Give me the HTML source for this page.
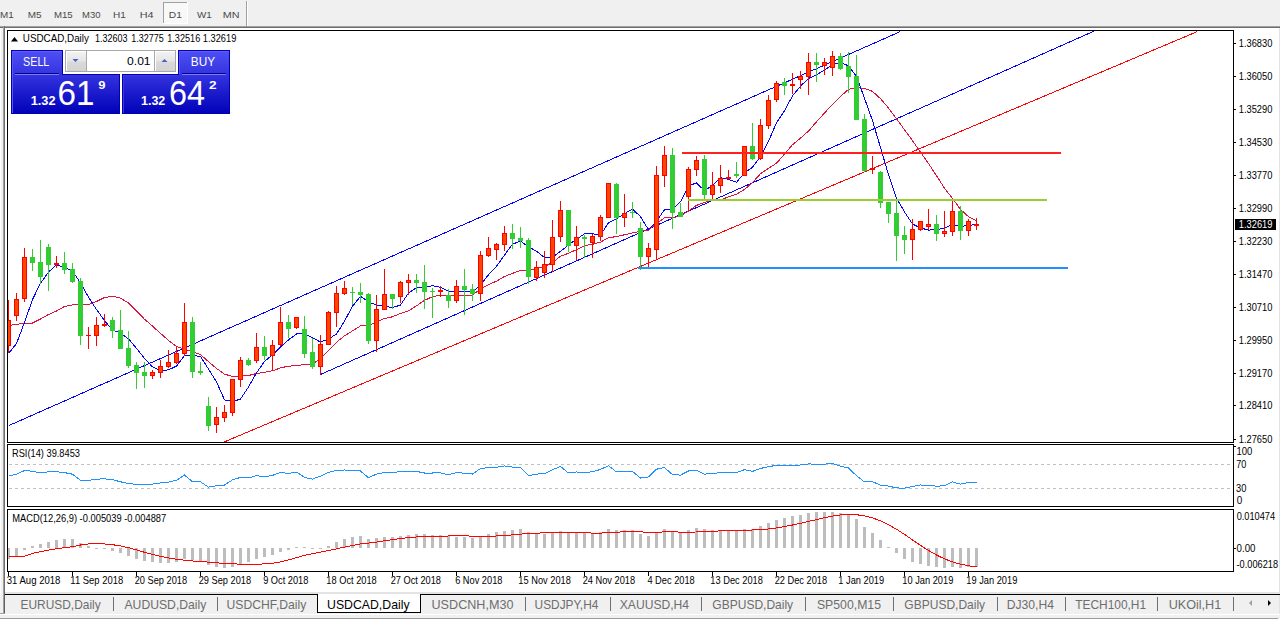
<!DOCTYPE html><html><head><meta charset="utf-8"><title>MT4 USDCAD Daily</title><style>
html,body{margin:0;padding:0;width:1280px;height:619px;overflow:hidden;background:#f0f0f0;}
svg{position:absolute;left:0;top:0;font-family:"Liberation Sans",sans-serif;}
</style></head><body>
<svg width="1280" height="619" viewBox="0 0 1280 619">
<defs>
<linearGradient id="pg" x1="0" y1="0" x2="0" y2="1"><stop offset="0" stop-color="#5050f6"/><stop offset="0.38" stop-color="#3434e0"/><stop offset="1" stop-color="#0000b8"/></linearGradient>
<linearGradient id="btn" x1="0" y1="0" x2="0" y2="1"><stop offset="0" stop-color="#f2f2f2"/><stop offset="0.45" stop-color="#e6e6e6"/><stop offset="0.55" stop-color="#d9d9d9"/><stop offset="1" stop-color="#d4d4d4"/></linearGradient>
<clipPath id="mc"><rect x="8" y="31" width="1225" height="411"/></clipPath>
<clipPath id="rc"><rect x="8" y="445" width="1225" height="61"/></clipPath>
<clipPath id="dc"><rect x="8" y="510" width="1225" height="61"/></clipPath>
</defs>
<rect x="0" y="0" width="1280" height="619" fill="#f0f0f0"/>
<rect x="163" y="2" width="25" height="22" fill="#f8f8f8"/>
<rect x="163" y="2" width="25" height="1" fill="#a0a0a0"/>
<rect x="163" y="2" width="1" height="22" fill="#a0a0a0"/>
<rect x="163" y="23" width="25" height="1" fill="#ffffff"/>
<rect x="187" y="2" width="1" height="22" fill="#ffffff"/>
<rect x="246" y="1" width="1" height="25" fill="#a0a0a0"/>
<rect x="247" y="1" width="1" height="25" fill="#ffffff"/>
<rect x="0" y="26" width="1280" height="1" fill="#a0a0a0"/>
<rect x="0" y="27" width="1280" height="1" fill="#6e6e6e"/>
<rect x="5" y="28" width="1274" height="564" fill="#ffffff"/>
<rect x="0" y="28" width="1" height="585" fill="#fcfcfc"/>
<rect x="3" y="26" width="1" height="587" fill="#a0a0a0"/>
<rect x="4" y="26" width="1" height="587" fill="#6e6e6e"/>
<rect x="1279" y="28" width="1" height="564" fill="#e3e3e3"/>
<rect x="5" y="592" width="1275" height="2" fill="#e3e3e3"/>
<g shape-rendering="crispEdges">
<rect x="7" y="30" width="1227" height="1" fill="#000"/>
<rect x="7" y="442" width="1227" height="1" fill="#000"/>
<rect x="7" y="30" width="1" height="413" fill="#000"/>
<rect x="1233" y="30" width="1" height="413" fill="#000"/>
<rect x="7" y="444" width="1227" height="1" fill="#000"/>
<rect x="7" y="506" width="1227" height="1" fill="#000"/>
<rect x="7" y="444" width="1" height="63" fill="#000"/>
<rect x="1233" y="444" width="1" height="63" fill="#000"/>
<rect x="7" y="509" width="1227" height="1" fill="#000"/>
<rect x="7" y="571" width="1227" height="1" fill="#000"/>
<rect x="7" y="509" width="1" height="63" fill="#000"/>
<rect x="1233" y="509" width="1" height="63" fill="#000"/>
</g>
<g shape-rendering="crispEdges">
<rect x="1234" y="43" width="2" height="1" fill="#000"/>
<rect x="1234" y="76" width="2" height="1" fill="#000"/>
<rect x="1234" y="109" width="2" height="1" fill="#000"/>
<rect x="1234" y="142" width="2" height="1" fill="#000"/>
<rect x="1234" y="175" width="2" height="1" fill="#000"/>
<rect x="1234" y="208" width="2" height="1" fill="#000"/>
<rect x="1234" y="241" width="2" height="1" fill="#000"/>
<rect x="1234" y="274" width="2" height="1" fill="#000"/>
<rect x="1234" y="307" width="2" height="1" fill="#000"/>
<rect x="1234" y="340" width="2" height="1" fill="#000"/>
<rect x="1234" y="373" width="2" height="1" fill="#000"/>
<rect x="1234" y="405" width="2" height="1" fill="#000"/>
<rect x="1234" y="439" width="2" height="1" fill="#000"/>
</g>
<rect x="1235" y="219" width="41" height="11" fill="#000"/>
<g clip-path="url(#mc)">
<line x1="9" y1="425.5" x2="900.5" y2="31.5" stroke="#0000ff" stroke-width="1" shape-rendering="crispEdges"/>
<line x1="320.5" y1="374.5" x2="1095.5" y2="30.5" stroke="#0000ff" stroke-width="1" shape-rendering="crispEdges"/>
<line x1="222.9" y1="442.5" x2="1197.5" y2="31.5" stroke="#ff0000" stroke-width="1" shape-rendering="crispEdges"/>
<polyline points="8.5,325.5 16.5,324.5 24.5,323.0 32.5,323.0 40.5,319.0 48.5,314.5 56.5,311.0 64.5,306.5 72.5,305.0 80.5,304.8 88.5,304.5 96.5,301.5 104.5,297.5 112.5,296.2 120.5,298.2 128.5,302.9 136.5,311.1 144.5,319.2 152.5,326.1 160.5,333.4 168.5,340.4 176.5,346.4 184.5,349.4 192.5,351.9 200.5,354.6 208.5,361.7 216.5,368.4 224.5,374.2 232.5,376.4 240.5,376.1 248.5,375.5 256.5,373.5 264.5,372.3 272.5,370.8 280.5,367.9 288.5,366.1 296.5,365.8 304.5,364.5 312.5,364.1 320.5,358.3 328.5,350.8 336.5,342.3 344.5,335.8 352.5,330.9 360.5,325.9 368.5,325.4 376.5,322.1 384.5,318.5 392.5,316.8 400.5,313.5 408.5,310.9 416.5,305.8 424.5,300.4 432.5,296.6 440.5,295.1 448.5,295.6 456.5,295.4 464.5,295.2 472.5,295.1 480.5,289.1 488.5,284.7 496.5,281.1 504.5,276.5 512.5,273.4 520.5,270.5 528.5,270.1 536.5,268.4 544.5,266.4 552.5,262.6 560.5,256.2 568.5,253.3 576.5,249.6 584.5,245.6 592.5,244.3 600.5,242.1 608.5,237.7 616.5,236.6 624.5,234.8 632.5,232.8 640.5,231.4 648.5,230.0 656.5,223.6 664.5,217.8 672.5,217.9 680.5,215.9 688.5,211.0 696.5,205.4 704.5,202.4 712.5,200.1 720.5,199.8 728.5,196.9 736.5,194.2 744.5,189.5 752.5,182.5 760.5,173.7 768.5,168.4 776.5,163.2 784.5,154.1 792.5,144.7 800.5,138.1 808.5,131.1 816.5,121.8 824.5,113.0 832.5,104.3 840.5,96.5 848.5,89.4 856.5,87.5 864.5,88.4 872.5,91.4 880.5,98.7 888.5,108.0 896.5,118.7 904.5,129.8 912.5,140.7 920.5,152.1 928.5,163.5 936.5,175.7 944.5,188.2 952.5,198.4 960.5,209.4 968.5,216.7 976.5,220.6" fill="none" stroke="#dc143c" stroke-width="1" shape-rendering="crispEdges"/>
<polyline points="8.5,353.5 16.5,343.5 24.5,322.5 32.5,299.5 40.5,283.3 48.5,272.1 56.5,264.9 64.5,267.3 72.5,271.1 80.5,282.9 88.5,297.1 96.5,309.5 104.5,320.5 112.5,330.3 120.5,332.9 128.5,338.9 136.5,348.3 144.5,358.5 152.5,366.9 160.5,370.5 168.5,369.9 176.5,366.1 184.5,355.5 192.5,355.3 200.5,356.5 208.5,369.1 216.5,381.9 224.5,399.9 232.5,401.5 240.5,399.1 248.5,386.9 256.5,372.9 264.5,361.5 272.5,354.7 280.5,347.1 288.5,339.9 296.5,333.9 304.5,333.5 312.5,337.7 320.5,342.1 328.5,338.9 336.5,334.1 344.5,321.1 352.5,306.3 360.5,296.3 368.5,301.9 376.5,305.1 384.5,306.3 392.5,307.5 400.5,305.1 408.5,293.1 416.5,287.7 424.5,287.1 432.5,285.7 440.5,287.3 448.5,291.3 456.5,292.1 464.5,291.7 472.5,292.1 480.5,285.1 488.5,274.7 496.5,266.3 504.5,255.1 512.5,244.1 520.5,241.1 528.5,246.7 536.5,251.3 544.5,257.5 552.5,257.3 560.5,251.3 568.5,245.1 576.5,239.1 584.5,233.9 592.5,233.7 600.5,235.1 608.5,222.7 616.5,218.7 624.5,213.7 632.5,208.9 640.5,216.7 648.5,229.7 656.5,221.3 664.5,209.7 672.5,209.7 680.5,201.7 688.5,185.9 696.5,182.9 704.5,190.7 712.5,185.3 720.5,177.7 728.5,179.3 736.5,182.3 744.5,172.7 752.5,167.3 760.5,156.7 768.5,141.3 776.5,122.9 784.5,110.7 792.5,95.9 800.5,86.1 808.5,78.5 816.5,74.7 824.5,70.1 832.5,64.5 840.5,62.9 848.5,65.7 856.5,76.7 864.5,98.3 872.5,120.7 880.5,147.5 888.5,174.9 896.5,198.1 904.5,211.9 912.5,224.1 920.5,227.9 928.5,230.1 936.5,229.7 944.5,228.1 952.5,224.5 960.5,226.3 968.5,225.7 976.5,223.9" fill="none" stroke="#0000ff" stroke-width="1" shape-rendering="crispEdges"/>
<g shape-rendering="crispEdges">
<rect x="8" y="300" width="1" height="53" fill="#ff0000"/>
<rect x="6" y="320" width="5" height="26" fill="#ff0000"/>
<rect x="7" y="321" width="3" height="24" fill="#ff4500"/>
<rect x="16" y="293" width="1" height="28" fill="#ff0000"/>
<rect x="14" y="299" width="5" height="17" fill="#ff0000"/>
<rect x="15" y="300" width="3" height="15" fill="#ff4500"/>
<rect x="24" y="248" width="1" height="54" fill="#ff0000"/>
<rect x="22" y="257" width="5" height="42" fill="#ff0000"/>
<rect x="23" y="258" width="3" height="40" fill="#ff4500"/>
<rect x="32" y="249" width="1" height="22" fill="#32cd32"/>
<rect x="30" y="257" width="5" height="6" fill="#32cd32"/>
<rect x="40" y="240" width="1" height="44" fill="#32cd32"/>
<rect x="38" y="262" width="5" height="15" fill="#32cd32"/>
<rect x="48" y="244" width="1" height="47" fill="#32cd32"/>
<rect x="46" y="247" width="5" height="18" fill="#32cd32"/>
<rect x="56" y="256" width="1" height="12" fill="#ff0000"/>
<rect x="54" y="263" width="5" height="2" fill="#ff0000"/>
<rect x="64" y="252" width="1" height="22" fill="#32cd32"/>
<rect x="62" y="263" width="5" height="7" fill="#32cd32"/>
<rect x="72" y="263" width="1" height="20" fill="#32cd32"/>
<rect x="70" y="269" width="5" height="13" fill="#32cd32"/>
<rect x="80" y="278" width="1" height="67" fill="#32cd32"/>
<rect x="78" y="281" width="5" height="55" fill="#32cd32"/>
<rect x="88" y="327" width="1" height="22" fill="#ff0000"/>
<rect x="86" y="335" width="5" height="1" fill="#ff0000"/>
<rect x="96" y="317" width="1" height="29" fill="#ff0000"/>
<rect x="94" y="325" width="5" height="11" fill="#ff0000"/>
<rect x="95" y="326" width="3" height="9" fill="#ff4500"/>
<rect x="104" y="314" width="1" height="13" fill="#ff0000"/>
<rect x="102" y="324" width="5" height="2" fill="#ff0000"/>
<rect x="112" y="317" width="1" height="21" fill="#32cd32"/>
<rect x="110" y="320" width="5" height="11" fill="#32cd32"/>
<rect x="120" y="310" width="1" height="39" fill="#32cd32"/>
<rect x="118" y="330" width="5" height="19" fill="#32cd32"/>
<rect x="128" y="331" width="1" height="37" fill="#32cd32"/>
<rect x="126" y="348" width="5" height="18" fill="#32cd32"/>
<rect x="136" y="362" width="1" height="27" fill="#32cd32"/>
<rect x="134" y="365" width="5" height="8" fill="#32cd32"/>
<rect x="144" y="362" width="1" height="26" fill="#32cd32"/>
<rect x="142" y="372" width="5" height="4" fill="#32cd32"/>
<rect x="152" y="370" width="1" height="9" fill="#ff0000"/>
<rect x="150" y="372" width="5" height="4" fill="#ff0000"/>
<rect x="151" y="373" width="3" height="2" fill="#ff4500"/>
<rect x="160" y="360" width="1" height="18" fill="#ff0000"/>
<rect x="158" y="366" width="5" height="7" fill="#ff0000"/>
<rect x="159" y="367" width="3" height="5" fill="#ff4500"/>
<rect x="168" y="350" width="1" height="18" fill="#ff0000"/>
<rect x="166" y="362" width="5" height="5" fill="#ff0000"/>
<rect x="167" y="363" width="3" height="3" fill="#ff4500"/>
<rect x="176" y="346" width="1" height="18" fill="#ff0000"/>
<rect x="174" y="353" width="5" height="10" fill="#ff0000"/>
<rect x="175" y="354" width="3" height="8" fill="#ff4500"/>
<rect x="184" y="303" width="1" height="53" fill="#ff0000"/>
<rect x="182" y="322" width="5" height="32" fill="#ff0000"/>
<rect x="183" y="323" width="3" height="30" fill="#ff4500"/>
<rect x="192" y="317" width="1" height="61" fill="#32cd32"/>
<rect x="190" y="322" width="5" height="50" fill="#32cd32"/>
<rect x="200" y="362" width="1" height="13" fill="#32cd32"/>
<rect x="198" y="371" width="5" height="2" fill="#32cd32"/>
<rect x="208" y="397" width="1" height="34" fill="#32cd32"/>
<rect x="206" y="406" width="5" height="20" fill="#32cd32"/>
<rect x="216" y="407" width="1" height="26" fill="#ff0000"/>
<rect x="214" y="417" width="5" height="8" fill="#ff0000"/>
<rect x="215" y="418" width="3" height="6" fill="#ff4500"/>
<rect x="224" y="405" width="1" height="17" fill="#ff0000"/>
<rect x="222" y="412" width="5" height="6" fill="#ff0000"/>
<rect x="223" y="413" width="3" height="4" fill="#ff4500"/>
<rect x="232" y="379" width="1" height="37" fill="#ff0000"/>
<rect x="230" y="379" width="5" height="34" fill="#ff0000"/>
<rect x="231" y="380" width="3" height="32" fill="#ff4500"/>
<rect x="240" y="357" width="1" height="30" fill="#ff0000"/>
<rect x="238" y="360" width="5" height="20" fill="#ff0000"/>
<rect x="239" y="361" width="3" height="18" fill="#ff4500"/>
<rect x="248" y="358" width="1" height="8" fill="#32cd32"/>
<rect x="246" y="360" width="5" height="5" fill="#32cd32"/>
<rect x="256" y="333" width="1" height="30" fill="#ff0000"/>
<rect x="254" y="347" width="5" height="14" fill="#ff0000"/>
<rect x="255" y="348" width="3" height="12" fill="#ff4500"/>
<rect x="264" y="336" width="1" height="24" fill="#32cd32"/>
<rect x="262" y="347" width="5" height="9" fill="#32cd32"/>
<rect x="272" y="340" width="1" height="31" fill="#ff0000"/>
<rect x="270" y="345" width="5" height="11" fill="#ff0000"/>
<rect x="271" y="346" width="3" height="9" fill="#ff4500"/>
<rect x="280" y="307" width="1" height="39" fill="#ff0000"/>
<rect x="278" y="322" width="5" height="23" fill="#ff0000"/>
<rect x="279" y="323" width="3" height="21" fill="#ff4500"/>
<rect x="288" y="315" width="1" height="23" fill="#32cd32"/>
<rect x="286" y="322" width="5" height="7" fill="#32cd32"/>
<rect x="296" y="317" width="1" height="12" fill="#ff0000"/>
<rect x="294" y="317" width="5" height="11" fill="#ff0000"/>
<rect x="295" y="318" width="3" height="9" fill="#ff4500"/>
<rect x="304" y="316" width="1" height="42" fill="#32cd32"/>
<rect x="302" y="329" width="5" height="25" fill="#32cd32"/>
<rect x="312" y="338" width="1" height="31" fill="#32cd32"/>
<rect x="310" y="352" width="5" height="15" fill="#32cd32"/>
<rect x="320" y="335" width="1" height="40" fill="#ff0000"/>
<rect x="318" y="344" width="5" height="23" fill="#ff0000"/>
<rect x="319" y="345" width="3" height="21" fill="#ff4500"/>
<rect x="328" y="311" width="1" height="34" fill="#ff0000"/>
<rect x="326" y="312" width="5" height="33" fill="#ff0000"/>
<rect x="327" y="313" width="3" height="31" fill="#ff4500"/>
<rect x="336" y="286" width="1" height="41" fill="#ff0000"/>
<rect x="334" y="293" width="5" height="20" fill="#ff0000"/>
<rect x="335" y="294" width="3" height="18" fill="#ff4500"/>
<rect x="344" y="281" width="1" height="14" fill="#ff0000"/>
<rect x="342" y="288" width="5" height="6" fill="#ff0000"/>
<rect x="343" y="289" width="3" height="4" fill="#ff4500"/>
<rect x="352" y="287" width="1" height="18" fill="#32cd32"/>
<rect x="350" y="292" width="5" height="1" fill="#32cd32"/>
<rect x="360" y="283" width="1" height="20" fill="#32cd32"/>
<rect x="358" y="292" width="5" height="3" fill="#32cd32"/>
<rect x="368" y="293" width="1" height="51" fill="#32cd32"/>
<rect x="366" y="294" width="5" height="47" fill="#32cd32"/>
<rect x="376" y="295" width="1" height="57" fill="#ff0000"/>
<rect x="374" y="309" width="5" height="32" fill="#ff0000"/>
<rect x="375" y="310" width="3" height="30" fill="#ff4500"/>
<rect x="384" y="269" width="1" height="41" fill="#ff0000"/>
<rect x="382" y="294" width="5" height="16" fill="#ff0000"/>
<rect x="383" y="295" width="3" height="14" fill="#ff4500"/>
<rect x="392" y="294" width="1" height="15" fill="#32cd32"/>
<rect x="390" y="294" width="5" height="5" fill="#32cd32"/>
<rect x="400" y="281" width="1" height="22" fill="#ff0000"/>
<rect x="398" y="282" width="5" height="15" fill="#ff0000"/>
<rect x="399" y="283" width="3" height="13" fill="#ff4500"/>
<rect x="408" y="274" width="1" height="21" fill="#ff0000"/>
<rect x="406" y="280" width="5" height="3" fill="#ff0000"/>
<rect x="407" y="281" width="3" height="1" fill="#ff4500"/>
<rect x="416" y="274" width="1" height="19" fill="#32cd32"/>
<rect x="414" y="280" width="5" height="3" fill="#32cd32"/>
<rect x="424" y="265" width="1" height="44" fill="#32cd32"/>
<rect x="422" y="282" width="5" height="10" fill="#32cd32"/>
<rect x="432" y="288" width="1" height="30" fill="#32cd32"/>
<rect x="430" y="291" width="5" height="1" fill="#32cd32"/>
<rect x="440" y="286" width="1" height="11" fill="#ff0000"/>
<rect x="438" y="290" width="5" height="2" fill="#ff0000"/>
<rect x="448" y="289" width="1" height="19" fill="#32cd32"/>
<rect x="446" y="295" width="5" height="6" fill="#32cd32"/>
<rect x="456" y="280" width="1" height="23" fill="#ff0000"/>
<rect x="454" y="286" width="5" height="15" fill="#ff0000"/>
<rect x="455" y="287" width="3" height="13" fill="#ff4500"/>
<rect x="464" y="269" width="1" height="46" fill="#32cd32"/>
<rect x="462" y="286" width="5" height="4" fill="#32cd32"/>
<rect x="472" y="284" width="1" height="17" fill="#32cd32"/>
<rect x="470" y="289" width="5" height="5" fill="#32cd32"/>
<rect x="480" y="251" width="1" height="50" fill="#ff0000"/>
<rect x="478" y="255" width="5" height="39" fill="#ff0000"/>
<rect x="479" y="256" width="3" height="37" fill="#ff4500"/>
<rect x="488" y="237" width="1" height="20" fill="#ff0000"/>
<rect x="486" y="248" width="5" height="8" fill="#ff0000"/>
<rect x="487" y="249" width="3" height="6" fill="#ff4500"/>
<rect x="496" y="243" width="1" height="17" fill="#ff0000"/>
<rect x="494" y="244" width="5" height="6" fill="#ff0000"/>
<rect x="495" y="245" width="3" height="4" fill="#ff4500"/>
<rect x="504" y="226" width="1" height="25" fill="#ff0000"/>
<rect x="502" y="233" width="5" height="12" fill="#ff0000"/>
<rect x="503" y="234" width="3" height="10" fill="#ff4500"/>
<rect x="512" y="224" width="1" height="25" fill="#32cd32"/>
<rect x="510" y="233" width="5" height="6" fill="#32cd32"/>
<rect x="520" y="227" width="1" height="21" fill="#32cd32"/>
<rect x="518" y="238" width="5" height="3" fill="#32cd32"/>
<rect x="528" y="238" width="1" height="46" fill="#32cd32"/>
<rect x="526" y="240" width="5" height="37" fill="#32cd32"/>
<rect x="536" y="261" width="1" height="20" fill="#ff0000"/>
<rect x="534" y="267" width="5" height="11" fill="#ff0000"/>
<rect x="535" y="268" width="3" height="9" fill="#ff4500"/>
<rect x="544" y="251" width="1" height="27" fill="#ff0000"/>
<rect x="542" y="264" width="5" height="9" fill="#ff0000"/>
<rect x="543" y="265" width="3" height="7" fill="#ff4500"/>
<rect x="552" y="220" width="1" height="52" fill="#ff0000"/>
<rect x="550" y="237" width="5" height="28" fill="#ff0000"/>
<rect x="551" y="238" width="3" height="26" fill="#ff4500"/>
<rect x="560" y="201" width="1" height="41" fill="#ff0000"/>
<rect x="558" y="210" width="5" height="27" fill="#ff0000"/>
<rect x="559" y="211" width="3" height="25" fill="#ff4500"/>
<rect x="568" y="210" width="1" height="42" fill="#32cd32"/>
<rect x="566" y="210" width="5" height="36" fill="#32cd32"/>
<rect x="576" y="226" width="1" height="34" fill="#ff0000"/>
<rect x="574" y="237" width="5" height="9" fill="#ff0000"/>
<rect x="575" y="238" width="3" height="7" fill="#ff4500"/>
<rect x="584" y="235" width="1" height="23" fill="#32cd32"/>
<rect x="582" y="237" width="5" height="2" fill="#32cd32"/>
<rect x="592" y="234" width="1" height="24" fill="#ff0000"/>
<rect x="590" y="236" width="5" height="7" fill="#ff0000"/>
<rect x="591" y="237" width="3" height="5" fill="#ff4500"/>
<rect x="600" y="215" width="1" height="26" fill="#ff0000"/>
<rect x="598" y="217" width="5" height="20" fill="#ff0000"/>
<rect x="599" y="218" width="3" height="18" fill="#ff4500"/>
<rect x="608" y="183" width="1" height="35" fill="#ff0000"/>
<rect x="606" y="183" width="5" height="35" fill="#ff0000"/>
<rect x="607" y="184" width="3" height="33" fill="#ff4500"/>
<rect x="616" y="183" width="1" height="51" fill="#32cd32"/>
<rect x="614" y="184" width="5" height="34" fill="#32cd32"/>
<rect x="624" y="194" width="1" height="33" fill="#ff0000"/>
<rect x="622" y="213" width="5" height="5" fill="#ff0000"/>
<rect x="623" y="214" width="3" height="3" fill="#ff4500"/>
<rect x="632" y="202" width="1" height="16" fill="#32cd32"/>
<rect x="630" y="212" width="5" height="1" fill="#32cd32"/>
<rect x="640" y="222" width="1" height="48" fill="#32cd32"/>
<rect x="638" y="228" width="5" height="29" fill="#32cd32"/>
<rect x="648" y="243" width="1" height="24" fill="#ff0000"/>
<rect x="646" y="248" width="5" height="9" fill="#ff0000"/>
<rect x="647" y="249" width="3" height="7" fill="#ff4500"/>
<rect x="656" y="166" width="1" height="94" fill="#ff0000"/>
<rect x="654" y="175" width="5" height="75" fill="#ff0000"/>
<rect x="655" y="176" width="3" height="73" fill="#ff4500"/>
<rect x="664" y="146" width="1" height="41" fill="#ff0000"/>
<rect x="662" y="155" width="5" height="21" fill="#ff0000"/>
<rect x="663" y="156" width="3" height="19" fill="#ff4500"/>
<rect x="672" y="148" width="1" height="81" fill="#32cd32"/>
<rect x="670" y="155" width="5" height="58" fill="#32cd32"/>
<rect x="680" y="203" width="1" height="14" fill="#32cd32"/>
<rect x="678" y="212" width="5" height="5" fill="#32cd32"/>
<rect x="688" y="167" width="1" height="45" fill="#ff0000"/>
<rect x="686" y="169" width="5" height="28" fill="#ff0000"/>
<rect x="687" y="170" width="3" height="26" fill="#ff4500"/>
<rect x="696" y="156" width="1" height="20" fill="#ff0000"/>
<rect x="694" y="160" width="5" height="10" fill="#ff0000"/>
<rect x="695" y="161" width="3" height="8" fill="#ff4500"/>
<rect x="704" y="155" width="1" height="44" fill="#32cd32"/>
<rect x="702" y="159" width="5" height="36" fill="#32cd32"/>
<rect x="712" y="172" width="1" height="27" fill="#ff0000"/>
<rect x="710" y="185" width="5" height="10" fill="#ff0000"/>
<rect x="711" y="186" width="3" height="8" fill="#ff4500"/>
<rect x="720" y="165" width="1" height="28" fill="#ff0000"/>
<rect x="718" y="178" width="5" height="8" fill="#ff0000"/>
<rect x="719" y="179" width="3" height="6" fill="#ff4500"/>
<rect x="728" y="170" width="1" height="9" fill="#ff0000"/>
<rect x="726" y="177" width="5" height="2" fill="#ff0000"/>
<rect x="736" y="162" width="1" height="16" fill="#32cd32"/>
<rect x="734" y="174" width="5" height="2" fill="#32cd32"/>
<rect x="744" y="146" width="1" height="30" fill="#ff0000"/>
<rect x="742" y="146" width="5" height="30" fill="#ff0000"/>
<rect x="743" y="147" width="3" height="28" fill="#ff4500"/>
<rect x="752" y="123" width="1" height="37" fill="#32cd32"/>
<rect x="750" y="146" width="5" height="13" fill="#32cd32"/>
<rect x="760" y="119" width="1" height="41" fill="#ff0000"/>
<rect x="758" y="125" width="5" height="34" fill="#ff0000"/>
<rect x="759" y="126" width="3" height="32" fill="#ff4500"/>
<rect x="768" y="95" width="1" height="34" fill="#ff0000"/>
<rect x="766" y="100" width="5" height="26" fill="#ff0000"/>
<rect x="767" y="101" width="3" height="24" fill="#ff4500"/>
<rect x="776" y="81" width="1" height="21" fill="#ff0000"/>
<rect x="774" y="83" width="5" height="17" fill="#ff0000"/>
<rect x="775" y="84" width="3" height="15" fill="#ff4500"/>
<rect x="784" y="78" width="1" height="17" fill="#32cd32"/>
<rect x="782" y="82" width="5" height="4" fill="#32cd32"/>
<rect x="792" y="73" width="1" height="21" fill="#ff0000"/>
<rect x="790" y="84" width="5" height="2" fill="#ff0000"/>
<rect x="800" y="71" width="1" height="18" fill="#ff0000"/>
<rect x="798" y="76" width="5" height="4" fill="#ff0000"/>
<rect x="799" y="77" width="3" height="2" fill="#ff4500"/>
<rect x="808" y="53" width="1" height="42" fill="#ff0000"/>
<rect x="806" y="62" width="5" height="15" fill="#ff0000"/>
<rect x="807" y="63" width="3" height="13" fill="#ff4500"/>
<rect x="816" y="53" width="1" height="29" fill="#32cd32"/>
<rect x="814" y="62" width="5" height="3" fill="#32cd32"/>
<rect x="824" y="58" width="1" height="17" fill="#ff0000"/>
<rect x="822" y="62" width="5" height="4" fill="#ff0000"/>
<rect x="823" y="63" width="3" height="2" fill="#ff4500"/>
<rect x="832" y="51" width="1" height="25" fill="#ff0000"/>
<rect x="830" y="56" width="5" height="12" fill="#ff0000"/>
<rect x="831" y="57" width="3" height="10" fill="#ff4500"/>
<rect x="840" y="53" width="1" height="17" fill="#32cd32"/>
<rect x="838" y="56" width="5" height="13" fill="#32cd32"/>
<rect x="848" y="52" width="1" height="41" fill="#32cd32"/>
<rect x="846" y="66" width="5" height="11" fill="#32cd32"/>
<rect x="856" y="55" width="1" height="65" fill="#32cd32"/>
<rect x="854" y="76" width="5" height="44" fill="#32cd32"/>
<rect x="864" y="114" width="1" height="58" fill="#32cd32"/>
<rect x="862" y="119" width="5" height="52" fill="#32cd32"/>
<rect x="872" y="156" width="1" height="18" fill="#ff0000"/>
<rect x="870" y="168" width="5" height="2" fill="#ff0000"/>
<rect x="880" y="171" width="1" height="37" fill="#32cd32"/>
<rect x="878" y="172" width="5" height="31" fill="#32cd32"/>
<rect x="888" y="202" width="1" height="21" fill="#32cd32"/>
<rect x="886" y="202" width="5" height="12" fill="#32cd32"/>
<rect x="896" y="200" width="1" height="61" fill="#32cd32"/>
<rect x="894" y="213" width="5" height="23" fill="#32cd32"/>
<rect x="904" y="226" width="1" height="28" fill="#32cd32"/>
<rect x="902" y="235" width="5" height="5" fill="#32cd32"/>
<rect x="912" y="219" width="1" height="41" fill="#ff0000"/>
<rect x="910" y="229" width="5" height="11" fill="#ff0000"/>
<rect x="911" y="230" width="3" height="9" fill="#ff4500"/>
<rect x="920" y="221" width="1" height="10" fill="#ff0000"/>
<rect x="918" y="221" width="5" height="9" fill="#ff0000"/>
<rect x="919" y="222" width="3" height="7" fill="#ff4500"/>
<rect x="928" y="209" width="1" height="21" fill="#ff0000"/>
<rect x="926" y="224" width="5" height="3" fill="#ff0000"/>
<rect x="927" y="225" width="3" height="1" fill="#ff4500"/>
<rect x="936" y="215" width="1" height="26" fill="#32cd32"/>
<rect x="934" y="224" width="5" height="10" fill="#32cd32"/>
<rect x="944" y="211" width="1" height="26" fill="#ff0000"/>
<rect x="942" y="231" width="5" height="3" fill="#ff0000"/>
<rect x="943" y="232" width="3" height="1" fill="#ff4500"/>
<rect x="952" y="201" width="1" height="35" fill="#ff0000"/>
<rect x="950" y="211" width="5" height="21" fill="#ff0000"/>
<rect x="951" y="212" width="3" height="19" fill="#ff4500"/>
<rect x="960" y="206" width="1" height="34" fill="#32cd32"/>
<rect x="958" y="211" width="5" height="20" fill="#32cd32"/>
<rect x="968" y="219" width="1" height="17" fill="#ff0000"/>
<rect x="966" y="221" width="5" height="10" fill="#ff0000"/>
<rect x="967" y="222" width="3" height="8" fill="#ff4500"/>
<rect x="976" y="218" width="1" height="12" fill="#ff0000"/>
<rect x="974" y="224" width="5" height="2" fill="#ff0000"/>
<rect x="682" y="152" width="379" height="2" fill="#ff2020"/>
<rect x="688" y="199" width="359" height="2" fill="#9acd32"/>
<rect x="638" y="267" width="430" height="2" fill="#1e90ff"/>
</g>
</g>
<path d="M11 41.5 L14.5 37 L18 41.5 Z" fill="#000"/>
<g shape-rendering="crispEdges">
<path d="M11 50 H63 V74 H120 V114 H11 Z" fill="url(#pg)"/>
<path d="M178 50 H230 V114 H122 V74 H178 Z" fill="url(#pg)"/>
<rect x="11" y="50" width="52" height="1" fill="#0000b4"/>
<rect x="11" y="50" width="1" height="64" fill="#0000b4"/>
<rect x="62" y="50" width="1" height="25" fill="#0000b4"/>
<rect x="62" y="74" width="58" height="1" fill="#0000b4"/>
<rect x="119" y="74" width="1" height="40" fill="#0000b4"/>
<rect x="11" y="113" width="109" height="1" fill="#0000b4"/>
<rect x="12" y="51" width="50" height="1" fill="#5c5cff"/>
<rect x="12" y="51" width="1" height="62" fill="#5656fa"/>
<rect x="178" y="50" width="52" height="1" fill="#0000b4"/>
<rect x="229" y="50" width="1" height="64" fill="#0000b4"/>
<rect x="178" y="50" width="1" height="25" fill="#0000b4"/>
<rect x="122" y="74" width="57" height="1" fill="#0000b4"/>
<rect x="122" y="74" width="1" height="40" fill="#0000b4"/>
<rect x="122" y="113" width="108" height="1" fill="#0000b4"/>
<rect x="179" y="51" width="50" height="1" fill="#5c5cff"/>
<rect x="179" y="51" width="1" height="23" fill="#5656fa"/>
<rect x="123" y="75" width="1" height="38" fill="#3a3ae8"/>
<rect x="123" y="75" width="55" height="1" fill="#3a3ae8"/>
<rect x="15" y="73" width="44" height="1" fill="#00008c"/>
<rect x="15" y="74" width="44" height="1" fill="#7a7aff"/>
<rect x="182" y="73" width="44" height="1" fill="#00008c"/>
<rect x="182" y="74" width="44" height="1" fill="#7a7aff"/>
<rect x="63" y="50" width="115" height="24" fill="#ffffff"/>
<rect x="65" y="50" width="111" height="1" fill="#a8a8a8"/>
<rect x="65" y="71" width="111" height="1" fill="#a8a8a8"/>
<rect x="65" y="50" width="1" height="22" fill="#a8a8a8"/>
<rect x="175" y="50" width="1" height="22" fill="#a8a8a8"/>
<rect x="67" y="52" width="19" height="19" fill="url(#btn)"/>
<rect x="86" y="51" width="1" height="20" fill="#a8a8a8"/>
<rect x="156" y="52" width="19" height="19" fill="url(#btn)"/>
<rect x="154" y="51" width="1" height="20" fill="#a8a8a8"/>
</g>
<path d="M72.5 59 L78.5 59 L75.5 62 Z" fill="#4a5fc8"/>
<path d="M161.5 62 L167.5 62 L164.5 59 Z" fill="#4a5fc8"/>
<g shape-rendering="crispEdges">
<line x1="8" y1="464.5" x2="1233" y2="464.5" stroke="#c0c0c0" stroke-dasharray="3,3" stroke-dashoffset="-1"/>
<line x1="8" y1="488.5" x2="1233" y2="488.5" stroke="#c0c0c0" stroke-dasharray="3,3" stroke-dashoffset="-1"/>
<rect x="1234" y="446" width="2" height="1" fill="#000"/>
</g>
<g clip-path="url(#rc)"><polyline points="8.5,476.2 16.5,474.2 24.5,470.6 32.5,471.2 40.5,472.9 48.5,471.8 56.5,471.7 64.5,472.6 72.5,474.2 80.5,480.4 88.5,480.4 96.5,479.1 104.5,478.9 112.5,479.7 120.5,481.8 128.5,483.6 136.5,484.4 144.5,484.7 152.5,484.1 160.5,482.9 168.5,482.1 176.5,480.3 184.5,475.0 192.5,481.8 200.5,481.9 208.5,487.1 216.5,485.8 224.5,485.0 232.5,479.9 240.5,477.4 248.5,477.9 256.5,475.6 264.5,476.7 272.5,475.4 280.5,472.5 288.5,473.5 296.5,472.1 304.5,477.4 312.5,479.1 320.5,476.1 328.5,472.4 336.5,470.5 344.5,470.0 352.5,470.6 360.5,471.0 368.5,477.8 376.5,474.1 384.5,472.5 392.5,473.0 400.5,471.3 408.5,471.1 416.5,471.4 424.5,473.0 432.5,473.0 440.5,472.8 448.5,474.8 456.5,472.6 464.5,473.2 472.5,474.0 480.5,468.5 488.5,467.6 496.5,467.2 504.5,465.9 512.5,467.1 520.5,467.6 528.5,475.6 536.5,474.1 544.5,473.6 552.5,469.6 560.5,466.5 568.5,473.0 576.5,472.0 584.5,472.2 592.5,471.9 600.5,469.4 608.5,465.8 616.5,471.9 624.5,471.4 632.5,471.3 640.5,478.1 648.5,477.0 656.5,469.2 664.5,467.6 672.5,474.6 680.5,475.1 688.5,471.0 696.5,470.3 704.5,474.2 712.5,473.4 720.5,472.7 728.5,472.6 736.5,472.4 744.5,469.7 752.5,471.4 760.5,468.5 768.5,466.6 776.5,465.4 784.5,465.7 792.5,465.6 800.5,465.0 808.5,463.9 816.5,464.3 824.5,464.1 832.5,463.6 840.5,466.3 848.5,468.0 856.5,475.7 864.5,482.0 872.5,481.7 880.5,485.1 888.5,486.1 896.5,487.9 904.5,488.2 912.5,486.4 920.5,485.0 928.5,485.3 936.5,486.2 944.5,485.8 952.5,481.9 960.5,484.2 968.5,482.5 976.5,482.9" fill="none" stroke="#1e90ff" stroke-width="1" shape-rendering="crispEdges"/></g>
<g clip-path="url(#dc)" shape-rendering="crispEdges">
<rect x="7" y="548" width="3" height="11" fill="#bdbdbd"/>
<rect x="15" y="548" width="3" height="8" fill="#bdbdbd"/>
<rect x="23" y="548" width="3" height="2" fill="#bdbdbd"/>
<rect x="31" y="546" width="3" height="2" fill="#bdbdbd"/>
<rect x="39" y="544" width="3" height="4" fill="#bdbdbd"/>
<rect x="47" y="542" width="3" height="6" fill="#bdbdbd"/>
<rect x="55" y="540" width="3" height="8" fill="#bdbdbd"/>
<rect x="63" y="539" width="3" height="9" fill="#bdbdbd"/>
<rect x="71" y="539" width="3" height="9" fill="#bdbdbd"/>
<rect x="79" y="543" width="3" height="5" fill="#bdbdbd"/>
<rect x="87" y="546" width="3" height="2" fill="#bdbdbd"/>
<rect x="95" y="548" width="3" height="1" fill="#bdbdbd"/>
<rect x="103" y="548" width="3" height="1" fill="#bdbdbd"/>
<rect x="111" y="548" width="3" height="3" fill="#bdbdbd"/>
<rect x="119" y="548" width="3" height="5" fill="#bdbdbd"/>
<rect x="127" y="548" width="3" height="8" fill="#bdbdbd"/>
<rect x="135" y="548" width="3" height="11" fill="#bdbdbd"/>
<rect x="143" y="548" width="3" height="13" fill="#bdbdbd"/>
<rect x="151" y="548" width="3" height="14" fill="#bdbdbd"/>
<rect x="159" y="548" width="3" height="15" fill="#bdbdbd"/>
<rect x="167" y="548" width="3" height="15" fill="#bdbdbd"/>
<rect x="175" y="548" width="3" height="14" fill="#bdbdbd"/>
<rect x="183" y="548" width="3" height="11" fill="#bdbdbd"/>
<rect x="191" y="548" width="3" height="12" fill="#bdbdbd"/>
<rect x="199" y="548" width="3" height="13" fill="#bdbdbd"/>
<rect x="207" y="548" width="3" height="17" fill="#bdbdbd"/>
<rect x="215" y="548" width="3" height="19" fill="#bdbdbd"/>
<rect x="223" y="548" width="3" height="20" fill="#bdbdbd"/>
<rect x="231" y="548" width="3" height="19" fill="#bdbdbd"/>
<rect x="239" y="548" width="3" height="16" fill="#bdbdbd"/>
<rect x="247" y="548" width="3" height="14" fill="#bdbdbd"/>
<rect x="255" y="548" width="3" height="11" fill="#bdbdbd"/>
<rect x="263" y="548" width="3" height="9" fill="#bdbdbd"/>
<rect x="271" y="548" width="3" height="7" fill="#bdbdbd"/>
<rect x="279" y="548" width="3" height="4" fill="#bdbdbd"/>
<rect x="287" y="548" width="3" height="2" fill="#bdbdbd"/>
<rect x="295" y="547" width="3" height="1" fill="#bdbdbd"/>
<rect x="303" y="547" width="3" height="1" fill="#bdbdbd"/>
<rect x="311" y="548" width="3" height="1" fill="#bdbdbd"/>
<rect x="319" y="548" width="3" height="1" fill="#bdbdbd"/>
<rect x="327" y="546" width="3" height="2" fill="#bdbdbd"/>
<rect x="335" y="542" width="3" height="6" fill="#bdbdbd"/>
<rect x="343" y="539" width="3" height="9" fill="#bdbdbd"/>
<rect x="351" y="537" width="3" height="11" fill="#bdbdbd"/>
<rect x="359" y="536" width="3" height="12" fill="#bdbdbd"/>
<rect x="367" y="539" width="3" height="9" fill="#bdbdbd"/>
<rect x="375" y="538" width="3" height="10" fill="#bdbdbd"/>
<rect x="383" y="537" width="3" height="11" fill="#bdbdbd"/>
<rect x="391" y="537" width="3" height="11" fill="#bdbdbd"/>
<rect x="399" y="536" width="3" height="12" fill="#bdbdbd"/>
<rect x="407" y="535" width="3" height="13" fill="#bdbdbd"/>
<rect x="415" y="534" width="3" height="14" fill="#bdbdbd"/>
<rect x="423" y="534" width="3" height="14" fill="#bdbdbd"/>
<rect x="431" y="535" width="3" height="13" fill="#bdbdbd"/>
<rect x="439" y="535" width="3" height="13" fill="#bdbdbd"/>
<rect x="447" y="536" width="3" height="12" fill="#bdbdbd"/>
<rect x="455" y="537" width="3" height="11" fill="#bdbdbd"/>
<rect x="463" y="537" width="3" height="11" fill="#bdbdbd"/>
<rect x="471" y="538" width="3" height="10" fill="#bdbdbd"/>
<rect x="479" y="536" width="3" height="12" fill="#bdbdbd"/>
<rect x="487" y="534" width="3" height="14" fill="#bdbdbd"/>
<rect x="495" y="532" width="3" height="16" fill="#bdbdbd"/>
<rect x="503" y="531" width="3" height="17" fill="#bdbdbd"/>
<rect x="511" y="530" width="3" height="18" fill="#bdbdbd"/>
<rect x="519" y="529" width="3" height="19" fill="#bdbdbd"/>
<rect x="527" y="532" width="3" height="16" fill="#bdbdbd"/>
<rect x="535" y="533" width="3" height="15" fill="#bdbdbd"/>
<rect x="543" y="534" width="3" height="14" fill="#bdbdbd"/>
<rect x="551" y="533" width="3" height="15" fill="#bdbdbd"/>
<rect x="559" y="531" width="3" height="17" fill="#bdbdbd"/>
<rect x="567" y="532" width="3" height="16" fill="#bdbdbd"/>
<rect x="575" y="532" width="3" height="16" fill="#bdbdbd"/>
<rect x="583" y="533" width="3" height="15" fill="#bdbdbd"/>
<rect x="591" y="533" width="3" height="15" fill="#bdbdbd"/>
<rect x="599" y="532" width="3" height="16" fill="#bdbdbd"/>
<rect x="607" y="529" width="3" height="19" fill="#bdbdbd"/>
<rect x="615" y="530" width="3" height="18" fill="#bdbdbd"/>
<rect x="623" y="530" width="3" height="18" fill="#bdbdbd"/>
<rect x="631" y="530" width="3" height="18" fill="#bdbdbd"/>
<rect x="639" y="534" width="3" height="14" fill="#bdbdbd"/>
<rect x="647" y="536" width="3" height="12" fill="#bdbdbd"/>
<rect x="655" y="533" width="3" height="15" fill="#bdbdbd"/>
<rect x="663" y="529" width="3" height="19" fill="#bdbdbd"/>
<rect x="671" y="531" width="3" height="17" fill="#bdbdbd"/>
<rect x="679" y="532" width="3" height="16" fill="#bdbdbd"/>
<rect x="687" y="530" width="3" height="18" fill="#bdbdbd"/>
<rect x="695" y="528" width="3" height="20" fill="#bdbdbd"/>
<rect x="703" y="529" width="3" height="19" fill="#bdbdbd"/>
<rect x="711" y="530" width="3" height="18" fill="#bdbdbd"/>
<rect x="719" y="530" width="3" height="18" fill="#bdbdbd"/>
<rect x="727" y="530" width="3" height="18" fill="#bdbdbd"/>
<rect x="735" y="530" width="3" height="18" fill="#bdbdbd"/>
<rect x="743" y="529" width="3" height="19" fill="#bdbdbd"/>
<rect x="751" y="529" width="3" height="19" fill="#bdbdbd"/>
<rect x="759" y="526" width="3" height="22" fill="#bdbdbd"/>
<rect x="767" y="523" width="3" height="25" fill="#bdbdbd"/>
<rect x="775" y="520" width="3" height="28" fill="#bdbdbd"/>
<rect x="783" y="518" width="3" height="30" fill="#bdbdbd"/>
<rect x="791" y="516" width="3" height="32" fill="#bdbdbd"/>
<rect x="799" y="515" width="3" height="33" fill="#bdbdbd"/>
<rect x="807" y="513" width="3" height="35" fill="#bdbdbd"/>
<rect x="815" y="512" width="3" height="36" fill="#bdbdbd"/>
<rect x="823" y="512" width="3" height="36" fill="#bdbdbd"/>
<rect x="831" y="512" width="3" height="36" fill="#bdbdbd"/>
<rect x="839" y="513" width="3" height="35" fill="#bdbdbd"/>
<rect x="847" y="515" width="3" height="33" fill="#bdbdbd"/>
<rect x="855" y="519" width="3" height="29" fill="#bdbdbd"/>
<rect x="863" y="527" width="3" height="21" fill="#bdbdbd"/>
<rect x="871" y="533" width="3" height="15" fill="#bdbdbd"/>
<rect x="879" y="540" width="3" height="8" fill="#bdbdbd"/>
<rect x="887" y="547" width="3" height="1" fill="#bdbdbd"/>
<rect x="895" y="548" width="3" height="5" fill="#bdbdbd"/>
<rect x="903" y="548" width="3" height="11" fill="#bdbdbd"/>
<rect x="911" y="548" width="3" height="14" fill="#bdbdbd"/>
<rect x="919" y="548" width="3" height="16" fill="#bdbdbd"/>
<rect x="927" y="548" width="3" height="18" fill="#bdbdbd"/>
<rect x="935" y="548" width="3" height="19" fill="#bdbdbd"/>
<rect x="943" y="548" width="3" height="20" fill="#bdbdbd"/>
<rect x="951" y="548" width="3" height="19" fill="#bdbdbd"/>
<rect x="959" y="548" width="3" height="20" fill="#bdbdbd"/>
<rect x="967" y="548" width="3" height="19" fill="#bdbdbd"/>
<rect x="975" y="548" width="3" height="19" fill="#bdbdbd"/>
</g>
<g clip-path="url(#dc)"><polyline points="8.5,556.9 16.5,556.9 24.5,556.1 32.5,553.4 40.5,551.7 48.5,550.1 56.5,548.8 64.5,547.6 72.5,546.7 80.5,545.0 88.5,543.9 96.5,543.7 104.5,544.0 112.5,544.7 120.5,545.9 128.5,547.7 136.5,549.9 144.5,552.3 152.5,554.5 160.5,556.3 168.5,557.9 176.5,559.3 184.5,560.2 192.5,561.0 200.5,561.5 208.5,562.1 216.5,562.8 224.5,563.5 232.5,563.9 240.5,564.1 248.5,564.1 256.5,564.2 264.5,563.9 272.5,563.3 280.5,561.9 288.5,559.9 296.5,557.6 304.5,555.4 312.5,553.7 320.5,552.1 328.5,550.6 336.5,548.9 344.5,547.1 352.5,545.5 360.5,544.0 368.5,543.1 376.5,542.1 384.5,540.8 392.5,539.6 400.5,538.5 408.5,537.6 416.5,537.0 424.5,536.7 432.5,536.5 440.5,536.2 448.5,536.0 456.5,535.9 464.5,535.9 472.5,536.1 480.5,536.2 488.5,536.2 496.5,536.0 504.5,535.5 512.5,534.9 520.5,534.1 528.5,533.6 536.5,533.2 544.5,532.8 552.5,532.5 560.5,532.2 568.5,532.2 576.5,532.4 584.5,532.7 592.5,533.1 600.5,533.1 608.5,532.7 616.5,532.2 624.5,531.8 632.5,531.7 640.5,531.9 648.5,532.3 656.5,532.3 664.5,531.9 672.5,531.8 680.5,532.1 688.5,532.1 696.5,532.0 704.5,531.9 712.5,531.5 720.5,530.8 728.5,530.5 736.5,530.6 744.5,530.4 752.5,530.0 760.5,529.6 768.5,529.0 776.5,527.9 784.5,526.6 792.5,525.0 800.5,523.3 808.5,521.4 816.5,519.6 824.5,517.7 832.5,516.1 840.5,515.0 848.5,514.4 856.5,514.7 864.5,515.9 872.5,517.9 880.5,520.9 888.5,524.7 896.5,529.2 904.5,534.4 912.5,539.9 920.5,545.4 928.5,550.5 936.5,555.0 944.5,558.9 952.5,561.9 960.5,564.2 968.5,565.8 976.5,566.7" fill="none" stroke="#ff0000" stroke-width="1" shape-rendering="crispEdges"/></g>
<g shape-rendering="crispEdges">
<rect x="1234" y="548" width="2" height="1" fill="#000"/>
</g>
<g shape-rendering="crispEdges">
<rect x="8" y="572" width="1" height="4" fill="#000"/>
<rect x="72" y="572" width="1" height="4" fill="#000"/>
<rect x="136" y="572" width="1" height="4" fill="#000"/>
<rect x="200" y="572" width="1" height="4" fill="#000"/>
<rect x="264" y="572" width="1" height="4" fill="#000"/>
<rect x="328" y="572" width="1" height="4" fill="#000"/>
<rect x="392" y="572" width="1" height="4" fill="#000"/>
<rect x="456" y="572" width="1" height="4" fill="#000"/>
<rect x="520" y="572" width="1" height="4" fill="#000"/>
<rect x="584" y="572" width="1" height="4" fill="#000"/>
<rect x="648" y="572" width="1" height="4" fill="#000"/>
<rect x="712" y="572" width="1" height="4" fill="#000"/>
<rect x="776" y="572" width="1" height="4" fill="#000"/>
<rect x="840" y="572" width="1" height="4" fill="#000"/>
<rect x="904" y="572" width="1" height="4" fill="#000"/>
<rect x="968" y="572" width="1" height="4" fill="#000"/>
</g>
<rect x="3" y="594" width="1277" height="1" fill="#000"/>
<rect x="0" y="595" width="1280" height="19" fill="#f0f0f0"/>
<rect x="0" y="614" width="1280" height="1" fill="#ffffff"/>
<rect x="0" y="615" width="1280" height="3" fill="#f0f0f0"/>
<rect x="0" y="618" width="1278" height="1" fill="#9a9a9a"/>
<rect x="0" y="613" width="5" height="1" fill="#a0a0a0"/>
<rect x="3" y="594" width="1" height="19" fill="#a0a0a0"/>
<rect x="4" y="594" width="1" height="19" fill="#606060"/>
<rect x="1279" y="595" width="1" height="19" fill="#e3e3e3"/>
<rect x="317" y="594" width="104" height="19" fill="#ffffff"/>
<rect x="317" y="594" width="1" height="19" fill="#000"/>
<rect x="420" y="594" width="1" height="19" fill="#000"/>
<rect x="317" y="612" width="104" height="1" fill="#000"/>
<g shape-rendering="crispEdges">
<rect x="113" y="597" width="1" height="14" fill="#707070"/>
<rect x="217" y="597" width="1" height="14" fill="#707070"/>
<rect x="525" y="597" width="1" height="14" fill="#707070"/>
<rect x="610" y="597" width="1" height="14" fill="#707070"/>
<rect x="701" y="597" width="1" height="14" fill="#707070"/>
<rect x="805" y="597" width="1" height="14" fill="#707070"/>
<rect x="893" y="597" width="1" height="14" fill="#707070"/>
<rect x="997" y="597" width="1" height="14" fill="#707070"/>
<rect x="1065" y="597" width="1" height="14" fill="#707070"/>
<rect x="1157" y="597" width="1" height="14" fill="#707070"/>
<rect x="1233" y="597" width="1" height="14" fill="#707070"/>
</g>
<path d="M1249 603 L1252 600 L1252 606 Z" fill="#a0a0a0"/>
<path d="M1271 603 L1268 600 L1268 606 Z" fill="#000"/>
<text x="-0.01" y="18" font-size="9.70" fill="#4a4a4a" textLength="13.70" lengthAdjust="spacingAndGlyphs">M1</text>
<text x="27.78" y="18" font-size="9.70" fill="#4a4a4a" textLength="13.80" lengthAdjust="spacingAndGlyphs">M5</text>
<text x="53.90" y="18" font-size="9.70" fill="#4a4a4a" textLength="18.76" lengthAdjust="spacingAndGlyphs">M15</text>
<text x="82.02" y="18" font-size="9.70" fill="#4a4a4a" textLength="18.44" lengthAdjust="spacingAndGlyphs">M30</text>
<text x="112.97" y="18" font-size="9.70" fill="#4a4a4a" textLength="12.85" lengthAdjust="spacingAndGlyphs">H1</text>
<text x="139.71" y="18" font-size="9.70" fill="#4a4a4a" textLength="13.83" lengthAdjust="spacingAndGlyphs">H4</text>
<text x="168.76" y="18" font-size="9.70" fill="#4a4a4a" textLength="13.07" lengthAdjust="spacingAndGlyphs">D1</text>
<text x="196.90" y="18" font-size="9.70" fill="#4a4a4a" textLength="14.76" lengthAdjust="spacingAndGlyphs">W1</text>
<text x="222.71" y="18" font-size="9.70" fill="#4a4a4a" textLength="16.76" lengthAdjust="spacingAndGlyphs">MN</text>
<text x="22.82" y="42" font-size="10.14" fill="#000" textLength="66.07" lengthAdjust="spacingAndGlyphs">USDCAD,Daily</text>
<text x="94.99" y="42" font-size="10.14" fill="#000" textLength="32.52" lengthAdjust="spacingAndGlyphs">1.32603</text>
<text x="131.19" y="42" font-size="10.14" fill="#000" textLength="32.52" lengthAdjust="spacingAndGlyphs">1.32775</text>
<text x="167.28" y="42" font-size="10.14" fill="#000" textLength="32.94" lengthAdjust="spacingAndGlyphs">1.32516</text>
<text x="202.87" y="42" font-size="10.14" fill="#000" textLength="33.46" lengthAdjust="spacingAndGlyphs">1.32619</text>
<text x="23.11" y="66" font-size="13.04" fill="#fff" textLength="26.23" lengthAdjust="spacingAndGlyphs">SELL</text>
<text x="190.80" y="66" font-size="13.04" fill="#fff" textLength="24.28" lengthAdjust="spacingAndGlyphs">BUY</text>
<text x="127.08" y="65" font-size="11.59" fill="#000" textLength="23.51" lengthAdjust="spacingAndGlyphs">0.01</text>
<text x="30.72" y="105" font-size="13.04" font-weight="bold" fill="#fff" textLength="24.86" lengthAdjust="spacingAndGlyphs">1.32</text>
<text x="57.58" y="105" font-size="34.78" fill="#fff" textLength="36.93" lengthAdjust="spacingAndGlyphs">61</text>
<text x="98.25" y="89" font-size="11.59" font-weight="bold" fill="#fff" textLength="7.25" lengthAdjust="spacingAndGlyphs">9</text>
<text x="141.04" y="105" font-size="13.04" font-weight="bold" fill="#fff" textLength="24.23" lengthAdjust="spacingAndGlyphs">1.32</text>
<text x="168.93" y="105" font-size="34.78" fill="#fff" textLength="35.99" lengthAdjust="spacingAndGlyphs">64</text>
<text x="208.93" y="89" font-size="11.59" font-weight="bold" fill="#fff" textLength="7.60" lengthAdjust="spacingAndGlyphs">2</text>
<text x="1238.77" y="47" font-size="10.14" fill="#000" textLength="33.57" lengthAdjust="spacingAndGlyphs">1.36830</text>
<text x="1238.77" y="80" font-size="10.14" fill="#000" textLength="33.57" lengthAdjust="spacingAndGlyphs">1.36050</text>
<text x="1238.77" y="113" font-size="10.14" fill="#000" textLength="33.57" lengthAdjust="spacingAndGlyphs">1.35290</text>
<text x="1238.77" y="146" font-size="10.14" fill="#000" textLength="33.57" lengthAdjust="spacingAndGlyphs">1.34530</text>
<text x="1238.77" y="179" font-size="10.14" fill="#000" textLength="33.57" lengthAdjust="spacingAndGlyphs">1.33770</text>
<text x="1238.77" y="212" font-size="10.14" fill="#000" textLength="33.57" lengthAdjust="spacingAndGlyphs">1.32990</text>
<text x="1238.77" y="245" font-size="10.14" fill="#000" textLength="33.57" lengthAdjust="spacingAndGlyphs">1.32230</text>
<text x="1238.77" y="278" font-size="10.14" fill="#000" textLength="33.57" lengthAdjust="spacingAndGlyphs">1.31470</text>
<text x="1238.77" y="311" font-size="10.14" fill="#000" textLength="33.57" lengthAdjust="spacingAndGlyphs">1.30710</text>
<text x="1238.77" y="344" font-size="10.14" fill="#000" textLength="33.57" lengthAdjust="spacingAndGlyphs">1.29950</text>
<text x="1238.77" y="377" font-size="10.14" fill="#000" textLength="33.57" lengthAdjust="spacingAndGlyphs">1.29170</text>
<text x="1238.77" y="409" font-size="10.14" fill="#000" textLength="33.57" lengthAdjust="spacingAndGlyphs">1.28410</text>
<text x="1238.77" y="443" font-size="10.14" fill="#000" textLength="33.57" lengthAdjust="spacingAndGlyphs">1.27650</text>
<text x="1238.77" y="228" font-size="10.14" fill="#fff" textLength="33.66" lengthAdjust="spacingAndGlyphs">1.32619</text>
<text x="1236.45" y="455" font-size="10.14" fill="#000" textLength="15.85" lengthAdjust="spacingAndGlyphs">100</text>
<text x="1236.25" y="468" font-size="10.14" fill="#000" textLength="10.09" lengthAdjust="spacingAndGlyphs">70</text>
<text x="1236.03" y="492" font-size="10.14" fill="#000" textLength="10.32" lengthAdjust="spacingAndGlyphs">30</text>
<text x="1236.81" y="504" font-size="10.14" fill="#000" textLength="5.52" lengthAdjust="spacingAndGlyphs">0</text>
<text x="1236.64" y="520" font-size="10.14" fill="#000" textLength="38.44" lengthAdjust="spacingAndGlyphs">0.010474</text>
<text x="1236.62" y="552" font-size="10.14" fill="#000" textLength="18.91" lengthAdjust="spacingAndGlyphs">0.00</text>
<text x="1236.55" y="568" font-size="10.14" fill="#000" textLength="41.50" lengthAdjust="spacingAndGlyphs">-0.006218</text>
<text x="11.97" y="457" font-size="10.14" fill="#000" textLength="68.03" lengthAdjust="spacingAndGlyphs">RSI(14) 39.8453</text>
<text x="12.26" y="522" font-size="10.14" fill="#000" textLength="153.97" lengthAdjust="spacingAndGlyphs">MACD(12,26,9) -0.005039 -0.004887</text>
<text x="6.72" y="584" font-size="10.14" fill="#000" textLength="53.73" lengthAdjust="spacingAndGlyphs">31 Aug 2018</text>
<text x="70.36" y="584" font-size="10.14" fill="#000" textLength="52.79" lengthAdjust="spacingAndGlyphs">11 Sep 2018</text>
<text x="134.64" y="584" font-size="10.14" fill="#000" textLength="52.47" lengthAdjust="spacingAndGlyphs">20 Sep 2018</text>
<text x="198.64" y="584" font-size="10.14" fill="#000" textLength="52.47" lengthAdjust="spacingAndGlyphs">29 Sep 2018</text>
<text x="263.14" y="584" font-size="10.14" fill="#000" textLength="45.26" lengthAdjust="spacingAndGlyphs">9 Oct 2018</text>
<text x="326.37" y="584" font-size="10.14" fill="#000" textLength="50.40" lengthAdjust="spacingAndGlyphs">18 Oct 2018</text>
<text x="390.64" y="584" font-size="10.14" fill="#000" textLength="50.40" lengthAdjust="spacingAndGlyphs">27 Oct 2018</text>
<text x="455.14" y="584" font-size="10.14" fill="#000" textLength="47.32" lengthAdjust="spacingAndGlyphs">6 Nov 2018</text>
<text x="518.37" y="584" font-size="10.14" fill="#000" textLength="52.46" lengthAdjust="spacingAndGlyphs">15 Nov 2018</text>
<text x="582.64" y="584" font-size="10.14" fill="#000" textLength="52.46" lengthAdjust="spacingAndGlyphs">24 Nov 2018</text>
<text x="647.42" y="584" font-size="10.14" fill="#000" textLength="47.32" lengthAdjust="spacingAndGlyphs">4 Dec 2018</text>
<text x="710.37" y="584" font-size="10.14" fill="#000" textLength="52.46" lengthAdjust="spacingAndGlyphs">13 Dec 2018</text>
<text x="774.64" y="584" font-size="10.14" fill="#000" textLength="52.46" lengthAdjust="spacingAndGlyphs">22 Dec 2018</text>
<text x="838.37" y="584" font-size="10.14" fill="#000" textLength="45.78" lengthAdjust="spacingAndGlyphs">1 Jan 2019</text>
<text x="902.37" y="584" font-size="10.14" fill="#000" textLength="50.93" lengthAdjust="spacingAndGlyphs">10 Jan 2019</text>
<text x="966.37" y="584" font-size="10.14" fill="#000" textLength="50.93" lengthAdjust="spacingAndGlyphs">19 Jan 2019</text>
<text x="20.49" y="609" font-size="13.04" fill="#6d6d6d" textLength="80.18" lengthAdjust="spacingAndGlyphs">EURUSD,Daily</text>
<text x="124.50" y="609" font-size="13.04" fill="#6d6d6d" textLength="81.83" lengthAdjust="spacingAndGlyphs">AUDUSD,Daily</text>
<text x="226.57" y="609" font-size="13.04" fill="#6d6d6d" textLength="79.78" lengthAdjust="spacingAndGlyphs">USDCHF,Daily</text>
<text x="431.53" y="609" font-size="13.04" fill="#6d6d6d" textLength="81.94" lengthAdjust="spacingAndGlyphs">USDCNH,M30</text>
<text x="534.59" y="609" font-size="13.04" fill="#6d6d6d" textLength="63.75" lengthAdjust="spacingAndGlyphs">USDJPY,H4</text>
<text x="619.72" y="609" font-size="13.04" fill="#6d6d6d" textLength="69.35" lengthAdjust="spacingAndGlyphs">XAUUSD,H4</text>
<text x="712.36" y="609" font-size="13.04" fill="#6d6d6d" textLength="80.73" lengthAdjust="spacingAndGlyphs">GBPUSD,Daily</text>
<text x="816.94" y="609" font-size="13.04" fill="#6d6d6d" textLength="64.08" lengthAdjust="spacingAndGlyphs">SP500,M15</text>
<text x="904.36" y="609" font-size="13.04" fill="#6d6d6d" textLength="80.73" lengthAdjust="spacingAndGlyphs">GBPUSD,Daily</text>
<text x="1006.68" y="609" font-size="13.04" fill="#6d6d6d" textLength="47.24" lengthAdjust="spacingAndGlyphs">DJ30,H4</text>
<text x="1075.23" y="609" font-size="13.04" fill="#6d6d6d" textLength="70.88" lengthAdjust="spacingAndGlyphs">TECH100,H1</text>
<text x="1168.63" y="609" font-size="13.04" fill="#6d6d6d" textLength="52.60" lengthAdjust="spacingAndGlyphs">UKOil,H1</text>
<text x="327.06" y="609" font-size="13.04" fill="#000" textLength="82.52" lengthAdjust="spacingAndGlyphs">USDCAD,Daily</text>
</svg></body></html>
